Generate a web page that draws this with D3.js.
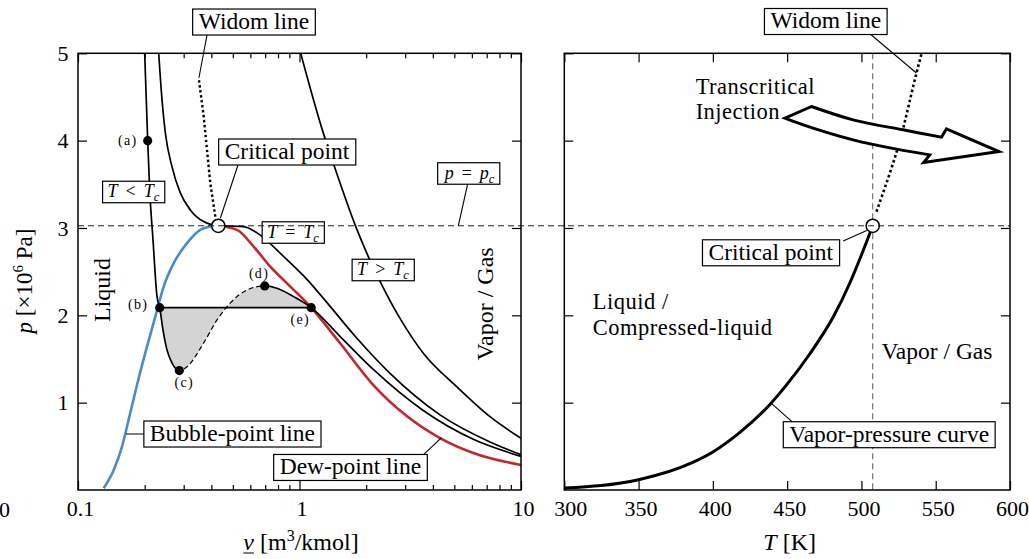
<!DOCTYPE html>
<html>
<head>
<meta charset="utf-8">
<script src="https://cdn.jsdelivr.net/npm/d3@7"></script>
<style>
  body { margin: 0; background: #fff; }
  svg { display: block; font-family: "Liberation Serif", "Times New Roman", serif; }
</style>
</head>
<body>
<svg id="chart" width="1029" height="559"></svg>
<script>
// ---------------- data ----------------
// axis ticks
const vTicks = [0.1, 1, 10];
const vTickLabels = ["0.1", "1", "10"];
const vMinorTicks = [0.2, 0.3, 0.4, 0.5, 0.6, 0.7, 0.8, 0.9, 2, 3, 4, 5, 6, 7, 8, 9];
const pTicks = [1, 2, 3, 4, 5];
const TTicks = [300, 350, 400, 450, 500, 550, 600];

// critical state of n-hexane
const vCrit = 0.43, pCrit = 3.025, TCrit = 507.6;
// saturation pressure of the subcritical isotherm (tie line b-e)
const pSat = 2.088;

// subcritical isotherm T < Tc  (v in m3/kmol, p in MPa)
const subV = [0.2, 0.2064, 0.2107, 0.2181, 0.2274, 0.2338, 0.2419, 0.2522, 0.2656, 0.2867,
              0.3106, 0.3694, 0.4242, 0.4872, 0.5794, 0.6965, 0.791, 0.941, 1.13,
              1.523, 2.154, 3.62, 6.09, 10];
const subP = [5.0, 4.0, 3.436, 2.864, 2.214, 2.088, 1.833, 1.604, 1.455, 1.367,
              1.412, 1.684, 1.947, 2.142, 2.291, 2.337, 2.31, 2.214, 2.088,
              1.76, 1.38, 0.91, 0.58, 0.385];

// critical isotherm T = Tc
const critV = [0.2314, 0.2395, 0.2479, 0.2656, 0.2897, 0.3214, 0.3694, 0.43, 0.56, 0.643,
               0.8486, 1.078, 1.331, 1.812, 2.563, 4.31, 7.245, 10];
const critP = [5.0, 4.467, 4.089, 3.703, 3.402, 3.207, 3.073, 3.025, 3.016, 2.944,
               2.672, 2.415, 2.145, 1.74, 1.335, 0.86, 0.55, 0.405];

// supercritical isotherm T > Tc
const superV = [1.0125, 1.281, 1.421, 1.812, 2.06, 2.31, 2.843, 3.622, 5.125, 7.245, 10];
const superP = [5.0, 4.086, 3.742, 2.99, 2.654, 2.39, 1.965, 1.566, 1.183, 0.84, 0.592];

// bubble-point line (saturated liquid)
const bubbleV = [0.1306, 0.145, 0.158, 0.172, 0.191, 0.2234, 0.2437, 0.2704, 0.3106, 0.3566, 0.41, 0.43];
const bubbleP = [0.02, 0.229, 0.496, 0.879, 1.351, 1.985, 2.329, 2.597, 2.826, 2.978, 3.022, 3.025];

// dew-point line (saturated vapour)
const dewV = [0.43, 0.5224, 0.621, 0.738, 0.909, 1.13, 1.33, 1.523, 2.155, 3.05, 4.31, 6.09, 10];
const dewP = [3.025, 2.978, 2.787, 2.558, 2.329, 2.088, 1.87, 1.683, 1.202, 0.847, 0.595, 0.424, 0.286];

// Widom line in the p-v plane
const widomV = [0.4168, 0.3956, 0.3694, 0.3507];
const widomP = [3.13, 3.513, 4.276, 4.716];

// marked states on the subcritical isotherm
const stateLabels = ["(a)", "(b)", "(c)", "(d)", "(e)"];
const stateV = [0.2064, 0.2338, 0.2867, 0.6965, 1.13];
const stateP = [4.0, 2.088, 1.367, 2.337, 2.088];

// vapour-pressure curve (T in K, p in MPa)
const vpT = [300, 350, 386.8, 400, 418.2, 438.4, 449.6, 465.3, 481, 492.2, 500, 507.6];
const vpP = [0.022, 0.118, 0.319, 0.436, 0.66, 0.98, 1.203, 1.56, 1.98, 2.37, 2.69, 3.025];

// Widom line in the p-T plane
const widomT = [510.1, 524.7, 537.0, 540.5];
const widomTP = [3.186, 3.93, 4.77, 5.0];

// transcritical injection arrow outline (T, p)
const arrowUpperT = [466.4, 494.4, 528, 553.9];
const arrowUpperP = [4.391, 4.238, 4.124, 4.040];
const arrowHeadT = [557.2, 592.6, 541.9];
const arrowHeadP = [4.135, 3.875, 3.749];
const arrowLowerT = [546, 523.6, 494.4, 460.8, 448.5];
const arrowLowerP = [3.837, 3.903, 4.009, 4.181, 4.258];

// ---------------- layout ----------------
const FONT = "'Liberation Serif','Times New Roman',serif";
const svg = d3.select("#chart");
const plotTop = 53.3, plotBottom = 490;
const L = { x0: 78, x1: 521 };
const R = { x0: 564.3, x1: 1010 };

const xL = d3.scaleLog().domain([0.1, 10]).range([L.x0, L.x1]);
const xR = d3.scaleLinear().domain([300, 600]).range([R.x0, R.x1]);
const y = d3.scaleLinear().domain([0, 5]).range([plotBottom, plotTop]);

const zip = (a, b) => a.map((d, i) => [d, b[i]]);
const lineL = d3.line().x(d => xL(d[0])).y(d => y(d[1])).curve(d3.curveMonotoneX);
const lineR = d3.line().x(d => xR(d[0])).y(d => y(d[1])).curve(d3.curveMonotoneX);

const defs = svg.append("defs");
function clipRect(id, x0, x1) {
  defs.append("clipPath").attr("id", id).append("rect")
    .attr("x", x0).attr("y", plotTop).attr("width", x1 - x0).attr("height", plotBottom - plotTop);
}
clipRect("clipL", L.x0, L.x1);
clipRect("clipR", R.x0, R.x1);
const [vb, vc, vd, ve] = [stateV[1], stateV[2], stateV[3], stateV[4]];
clipRect("clipSolidA", L.x0, xL(vc));
clipRect("clipSolidB", xL(vd), L.x1);
clipRect("clipDash", xL(vc), xL(vd));
clipRect("clipLoop", xL(vb), xL(ve));

const gL = svg.append("g");
const gR = svg.append("g");

// ---------- left panel: p-v diagram ----------
const subPts = zip(subV, subP);

// equal-area region between the loop and the tie line
gL.append("path")
  .attr("clip-path", "url(#clipLoop)")
  .attr("d", d3.area().x(d => xL(d[0])).y0(y(pSat)).y1(d => y(d[1])).curve(d3.curveMonotoneX)(subPts))
  .attr("fill", "#d4d4d4");

// p = pc across both panels
svg.append("line")
  .attr("x1", xL(0.1)).attr("x2", xR(600)).attr("y1", y(pCrit)).attr("y2", y(pCrit))
  .attr("stroke", "#222").attr("stroke-width", 1).attr("stroke-dasharray", "6,4");

const curvesL = gL.append("g").attr("clip-path", "url(#clipL)").attr("fill", "none");
curvesL.append("path").attr("d", lineL(zip(bubbleV, bubbleP)))
  .attr("stroke", "#4a8cc6").attr("stroke-width", 2.6);
curvesL.append("path").attr("d", lineL(zip(dewV, dewP)))
  .attr("stroke", "#c1272d").attr("stroke-width", 2.6);
curvesL.append("path").attr("d", lineL(zip(superV, superP)))
  .attr("stroke", "#000").attr("stroke-width", 1.7);
curvesL.append("path").attr("d", lineL(zip(critV, critP)))
  .attr("stroke", "#000").attr("stroke-width", 1.7);
["clipSolidA", "clipSolidB"].forEach(id => {
  curvesL.append("g").attr("clip-path", `url(#${id})`).append("path")
    .attr("d", lineL(subPts)).attr("fill", "none")
    .attr("stroke", "#000").attr("stroke-width", 1.7);
});
curvesL.append("g").attr("clip-path", "url(#clipDash)").append("path")
  .attr("d", lineL(subPts)).attr("fill", "none")
  .attr("stroke", "#000").attr("stroke-width", 1.2).attr("stroke-dasharray", "5,3");

// tie line b-e
gL.append("line")
  .attr("x1", xL(vb)).attr("x2", xL(ve)).attr("y1", y(pSat)).attr("y2", y(pSat))
  .attr("stroke", "#000").attr("stroke-width", 1.8);

// Widom line (p-v)
gL.append("path")
  .attr("d", d3.line().x(d => xL(d[0])).y(d => y(d[1]))(zip(widomV, widomP)))
  .attr("fill", "none").attr("stroke", "#000").attr("stroke-width", 2.4)
  .attr("stroke-dasharray", "2.4,2.6");

// ---------- right panel: p-T diagram ----------
gR.append("line")
  .attr("x1", xR(TCrit)).attr("x2", xR(TCrit)).attr("y1", plotTop).attr("y2", plotBottom)
  .attr("stroke", "#555").attr("stroke-width", 1).attr("stroke-dasharray", "6,4");

const curvesR = gR.append("g").attr("clip-path", "url(#clipR)").attr("fill", "none");
curvesR.append("path").attr("d", lineR(zip(vpT, vpP)))
  .attr("stroke", "#000").attr("stroke-width", 3);
curvesR.append("path")
  .attr("d", d3.line().x(d => xR(d[0])).y(d => y(d[1])).curve(d3.curveMonotoneY)(zip(widomT, widomTP)))
  .attr("stroke", "#000").attr("stroke-width", 2.6).attr("stroke-dasharray", "2.6,2.6");

// transcritical injection arrow
{
  const edge = d3.line().x(d => xR(d[0])).y(d => y(d[1])).curve(d3.curveCatmullRom.alpha(0.5));
  const upper = edge(zip(arrowUpperT, arrowUpperP));
  const head = zip(arrowHeadT, arrowHeadP).map(d => `L${xR(d[0])},${y(d[1])}`).join("");
  const lower = edge(zip(arrowLowerT, arrowLowerP)).replace(/^M/, "L");
  gR.append("path").attr("d", upper + head + lower + "Z")
    .attr("fill", "#fff").attr("stroke", "#000").attr("stroke-width", 3)
    .attr("stroke-linejoin", "miter");
}

// ---------------- annotations ----------------
function leader(g, x1, y1, x2, y2) {
  g.append("line").attr("x1", x1).attr("y1", y1).attr("x2", x2).attr("y2", y2)
    .attr("stroke", "#000").attr("stroke-width", 1.1);
}
function boxLabel(g, cx, cy, fill, o) {
  const grp = g.append("g");
  const rect = grp.append("rect").attr("fill", "#fff").attr("stroke", "#000").attr("stroke-width", 1.2);
  const t = grp.append("text").attr("x", cx).attr("y", cy + o.fs * 0.29)
    .attr("text-anchor", "middle").attr("font-size", o.fs).attr("fill", "#000");
  fill(t);
  const bb = t.node().getBBox();
  rect.attr("x", bb.x - o.padX).attr("width", bb.width + 2 * o.padX)
    .attr("y", cy - o.h / 2).attr("height", o.h);
  return grp;
}
const plain = s => t => t.text(s);
const BIG = { fs: 23.5, h: 26, padX: 6 };
const MATH = { fs: 18, h: 21.5, padX: 5 };
function relation(a, rel, b) {
  return t => {
    t.append("tspan").attr("font-style", "italic").text(a);
    t.append("tspan").attr("dx", 8).text(rel);
    t.append("tspan").attr("dx", 8).attr("font-style", "italic").text(b);
    t.append("tspan").attr("font-style", "italic").attr("font-size", 12.5).attr("dy", 4).text("c");
  };
}

// left panel annotations
leader(gL, xL(0.3823), y(5.212), xL(0.3516), y(4.72));
boxLabel(gL, xL(0.623), y(5.358), plain("Widom line"), BIG);
leader(gL, xL(0.5277), y(3.721), xL(0.4389), y(3.111));
boxLabel(gL, xL(0.878), y(3.87), plain("Critical point"), BIG);
leader(gL, xL(5.745), y(3.504), xL(5.21), y(pCrit));
boxLabel(gL, xL(5.855), y(3.624), relation("p", "=", "p"), MATH);
boxLabel(gL, xL(0.178), y(3.412), relation("T", "<", "T"), MATH);
boxLabel(gL, xL(0.935), y(2.948), relation("T", "=", "T"), MATH);
boxLabel(gL, xL(2.382), y(2.519), relation("T", ">", "T"), MATH);
leader(gL, xL(0.1647), y(0.641), xL(0.23), y(0.641));
boxLabel(gL, xL(0.498), y(0.641), plain("Bubble-point line"), BIG);
leader(gL, xL(3.648), y(0.41), xL(4.38), y(0.6));
boxLabel(gL, xL(1.699), y(0.258), plain("Dew-point line"), BIG);

gL.append("text")
  .attr("transform", `translate(${xL(0.1394)},${y(2.29)}) rotate(-90)`)
  .attr("text-anchor", "middle").attr("font-size", 24).text("Liquid");
gL.append("text")
  .attr("transform", `translate(${xL(7.474)},${y(2.13)}) rotate(-90)`)
  .attr("text-anchor", "middle").attr("font-size", 24).text("Vapor / Gas");

// marked states
const labelOffset = [[-20, 0], [-21.5, -2.7], [5, 11.6], [-5.7, -12.7], [-11, 12.3]];
stateLabels.forEach((lab, i) => {
  const px = xL(stateV[i]), py = y(stateP[i]);
  gL.append("circle").attr("cx", px).attr("cy", py).attr("r", 4.6).attr("fill", "#000");
  gL.append("text").attr("x", px + labelOffset[i][0]).attr("y", py + labelOffset[i][1])
    .attr("text-anchor", "middle").attr("dominant-baseline", "central")
    .attr("font-size", 14).attr("letter-spacing", 1.3).attr("fill", "#000").text(lab);
});
gL.append("circle").attr("cx", xL(vCrit)).attr("cy", y(pCrit)).attr("r", 6.6)
  .attr("fill", "#fff").attr("stroke", "#000").attr("stroke-width", 1.5);

// right panel annotations
leader(gR, xR(506.1), y(5.218), xR(537.0), y(4.774));
boxLabel(gR, xR(476.0), y(5.364), plain("Widom line"), BIG);
leader(gR, xR(487.7), y(2.851), xR(503.6), y(2.97));
boxLabel(gR, xR(439.0), y(2.716), plain("Critical point"), BIG);
leader(gR, xR(454.0), y(0.771), xR(438.8), y(1.0));
boxLabel(gR, xR(518.7), y(0.633), plain("Vapor-pressure curve"), BIG);

// two-line region labels: 22.5px type on a 25.5px line pitch
function textLines(g, x, yFirst, lines) {
  const t = g.append("text").attr("x", x).attr("y", yFirst)
    .attr("font-size", 22.5).attr("letter-spacing", 0.5);
  lines.forEach((s, i) => t.append("tspan").attr("x", x).attr("dy", i ? 25.5 : 0).text(s));
}
textLines(gR, xR(388.4), y(4.535), ["Transcritical", "Injection"]);
textLines(gR, xR(319.2), y(2.07), ["Liquid /", "Compressed-liquid"]);
gR.append("text").attr("x", xR(513.5)).attr("y", y(1.496))
  .attr("font-size", 23.5).text("Vapor / Gas");

gR.append("circle").attr("cx", xR(TCrit)).attr("cy", y(pCrit)).attr("r", 6.6)
  .attr("fill", "#fff").attr("stroke", "#000").attr("stroke-width", 1.5);

// ---------------- axes and frames ----------------
function tidy(g, fs) {
  g.attr("font-family", FONT).attr("font-size", fs);
  g.select(".domain").remove();
  g.selectAll("line").attr("stroke", "#000").attr("stroke-width", 1.2);
  g.selectAll("text").attr("fill", "#000");
}
const noLabel = () => "";

// left panel
svg.append("g").attr("transform", `translate(0,${plotBottom})`)
  .call(d3.axisBottom(xL).tickValues(vTicks).tickSize(-9).tickPadding(10.5)
    .tickFormat(d => vTickLabels[vTicks.indexOf(d)]))
  .call(g => tidy(g, 22))
  .call(g => g.selectAll("text").attr("dx", 2));
svg.append("g").attr("transform", `translate(0,${plotBottom})`)
  .call(d3.axisBottom(xL).tickValues(vMinorTicks).tickSize(-5).tickFormat(noLabel))
  .call(g => tidy(g, 22));
svg.append("g").attr("transform", `translate(0,${plotTop})`)
  .call(d3.axisTop(xL).tickValues(vTicks).tickSize(-9).tickFormat(noLabel))
  .call(g => tidy(g, 22));
svg.append("g").attr("transform", `translate(0,${plotTop})`)
  .call(d3.axisTop(xL).tickValues(vMinorTicks).tickSize(-5).tickFormat(noLabel))
  .call(g => tidy(g, 22));
svg.append("g").attr("transform", `translate(${L.x0},0)`)
  .call(d3.axisLeft(y).tickValues(pTicks).tickSize(-9).tickPadding(9.5).tickFormat(d3.format("d")))
  .call(g => tidy(g, 22));
svg.append("g").attr("transform", `translate(${L.x1},0)`)
  .call(d3.axisRight(y).tickValues(pTicks).tickSize(-9).tickFormat(noLabel))
  .call(g => tidy(g, 22));

// right panel
svg.append("g").attr("transform", `translate(0,${plotBottom})`)
  .call(d3.axisBottom(xR).tickValues(TTicks).tickSize(-9).tickPadding(10.5).tickFormat(d3.format("d")))
  .call(g => tidy(g, 22))
  .call(g => g.selectAll("text").attr("dx", d => d === 300 ? 6 : 2));
svg.append("g").attr("transform", `translate(0,${plotTop})`)
  .call(d3.axisTop(xR).tickValues(TTicks).tickSize(-9).tickFormat(noLabel))
  .call(g => tidy(g, 22));
svg.append("g").attr("transform", `translate(${R.x0},0)`)
  .call(d3.axisLeft(y).tickValues(pTicks).tickSize(-9).tickFormat(noLabel))
  .call(g => tidy(g, 22));
svg.append("g").attr("transform", `translate(${R.x1},0)`)
  .call(d3.axisRight(y).tickValues(pTicks).tickSize(-9).tickFormat(noLabel))
  .call(g => tidy(g, 22));

[L, R].forEach(P => {
  svg.append("rect").attr("x", P.x0).attr("y", plotTop)
    .attr("width", P.x1 - P.x0).attr("height", plotBottom - plotTop)
    .attr("fill", "none").attr("stroke", "#000").attr("stroke-width", 1.5);
});

// stray tick digit at the far left edge
svg.append("text").attr("x", 4.5).attr("y", 516.5).attr("text-anchor", "middle")
  .attr("font-size", 22).text("0");

// axis titles
{
  const t = svg.append("text").attr("x", 301).attr("y", 550)
    .attr("text-anchor", "middle").attr("font-size", 24);
  t.append("tspan").attr("font-style", "italic").text("v");
  t.append("tspan").text(" [m");
  t.append("tspan").attr("font-size", 16).attr("dy", -9).text("3");
  t.append("tspan").attr("dy", 9).text("/kmol]");
  const n = t.node();
  const s = n.getStartPositionOfChar(0), e = n.getEndPositionOfChar(0);
  svg.append("line").attr("x1", s.x).attr("x2", e.x).attr("y1", 553).attr("y2", 553)
    .attr("stroke", "#000").attr("stroke-width", 1);
}
{
  const t = svg.append("text").attr("x", 789.7).attr("y", 550)
    .attr("text-anchor", "middle").attr("font-size", 24);
  t.append("tspan").attr("font-style", "italic").text("T");
  t.append("tspan").text(" [K]");
}
{
  const t = svg.append("text").attr("transform", "translate(32,281) rotate(-90)")
    .attr("text-anchor", "middle").attr("font-size", 23);
  t.append("tspan").attr("font-style", "italic").text("p");
  t.append("tspan").text(" [×10");
  t.append("tspan").attr("font-size", 15).attr("dy", -9).text("6");
  t.append("tspan").attr("dy", 9).text(" Pa]");
}
</script>
</body>
</html>
